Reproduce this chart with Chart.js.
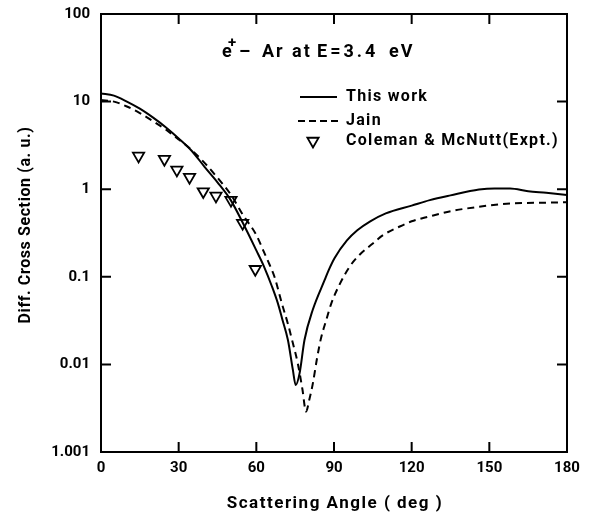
<!DOCTYPE html>
<html>
<head>
<meta charset="utf-8">
<script src="https://cdn.jsdelivr.net/npm/chart.js@4/dist/chart.umd.min.js"></script>
<style>
html,body{margin:0;padding:0;background:#fff;}
#wrap{width:591px;height:515px;position:relative;}
</style>
</head>
<body>
<div id="wrap"><canvas id="c" width="591" height="515"></canvas></div>
<script>
// ---- data ----
const thisWorkAngles = [0,5,10,15,20,25,30,35,40,45,50,55,60,63,66,68.3,70,72.2,74.1,75.2,76.7,78.6,81.8,86.4,88,90.3,95,99,104,110,120,127,135,146,152,158,165,172,180];
const thisWorkValues = [12.4,11.7,10.0,8.3,6.6,5.1,3.8,2.75,1.8,1.2,0.76,0.40,0.2,0.13,0.078,0.05,0.033,0.019,0.0087,0.0058,0.0079,0.019,0.042,0.092,0.12,0.165,0.26,0.34,0.43,0.53,0.65,0.75,0.85,0.99,1.02,1.02,0.95,0.91,0.86];

const jainAngles = [0,5,10,15,20,25,30,35,40,45,50,55,60,63,65,67,70,72.2,74,76,77.8,79.2,80.5,81.8,83.5,85,87,89,92,96,100,105,109,115,120,127,135,146,159,170,180];
const jainValues = [10.4,10.0,8.8,7.4,6.0,4.8,3.7,2.8,2.0,1.35,0.88,0.5,0.3,0.19,0.14,0.1,0.048,0.029,0.018,0.0103,0.0052,0.0029,0.004,0.006,0.012,0.02,0.032,0.05,0.08,0.13,0.18,0.24,0.3,0.37,0.43,0.49,0.56,0.63,0.69,0.70,0.71];

const exptAngles = [14.5,24.5,29.3,34.2,39.5,44.4,50.2,54.7,59.6];
const exptValues = [2.4,2.2,1.66,1.37,0.94,0.84,0.75,0.41,0.122];

const xTickValues = [0,30,60,90,120,150,180];
const yTickValues = [0.001,0.01,0.1,1,10,100];
const yTickLabels = ['1.001','0.01','0.1','1','10','100'];

const seriesNames = ['This work','Jain','Coleman & McNutt(Expt.)'];
const annotationParts = ['e','+','\u2013','Ar','at','E=3.4','eV'];
const xTitle = 'Scattering Angle ( deg )';
const yTitle = 'Diff. Cross Section (a. u.)';

const FONT = 'Roboto, "DejaVu Sans", sans-serif';
const toXY = (xs, ys) => xs.map((x, i) => ({x: x, y: ys[i]}));

const framePlugin = {
  id: 'frame',
  afterDatasetsDraw(chart) {
    const ctx = chart.ctx;
    const a = chart.chartArea;
    const xs = chart.scales.x, ys = chart.scales.y;
    ctx.save();
    ctx.strokeStyle = '#000';
    ctx.lineWidth = 2;
    ctx.strokeRect(a.left, a.top, a.right - a.left, a.bottom - a.top);
    const tl = 10;
    ctx.beginPath();
    xTickValues.forEach(v => {
      if (v === xs.min || v === xs.max) return;
      const px = xs.getPixelForValue(v);
      ctx.moveTo(px, a.bottom); ctx.lineTo(px, a.bottom - tl);
      ctx.moveTo(px, a.top); ctx.lineTo(px, a.top + tl);
    });
    yTickValues.forEach(v => {
      if (v === ys.min || v === ys.max) return;
      const py = ys.getPixelForValue(v);
      ctx.moveTo(a.left, py); ctx.lineTo(a.left + tl, py);
      ctx.moveTo(a.right, py); ctx.lineTo(a.right - tl, py);
    });
    ctx.stroke();

    ctx.fillStyle = '#000';
    ctx.textBaseline = 'middle';
    ctx.textAlign = 'left';

    // annotation "e+ – Ar at E=3.4 eV"
    const ay = 52;
    ctx.font = 'bold 18px ' + FONT;
    ctx.letterSpacing = '1px';
    ctx.fillText(annotationParts[0], 222, ay);
    ctx.font = 'bold 15px ' + FONT;
    ctx.fillText(annotationParts[1], 228, ay - 9);
    ctx.font = 'bold 18px ' + FONT;
    ctx.fillText(annotationParts[2], 239, ay);
    ctx.letterSpacing = '2px';
    ctx.fillText(annotationParts[3], 262, ay);
    ctx.fillText(annotationParts[4], 292, ay);
    ctx.letterSpacing = '3px';
    ctx.fillText(annotationParts[5], 317, ay);
    ctx.letterSpacing = '2px';
    ctx.fillText(annotationParts[6], 389, ay);

    // legend
    ctx.font = 'bold 16px ' + FONT;
    ctx.letterSpacing = '1.3px';
    const ly = [97, 121, 141];
    ctx.lineWidth = 2;
    ctx.beginPath();
    ctx.setLineDash([]);
    ctx.moveTo(300, ly[0]); ctx.lineTo(337, ly[0]);
    ctx.stroke();
    ctx.beginPath();
    ctx.setLineDash([7, 4]);
    ctx.moveTo(298, ly[1]); ctx.lineTo(340, ly[1]);
    ctx.stroke();
    ctx.setLineDash([]);
    ctx.save();
    ctx.fillStyle = 'rgba(255,255,255,0)';
    ctx.strokeStyle = '#000';
    ctx.lineWidth = 1.8;
    Chart.helpers.drawPoint(ctx, {pointStyle: 'triangle', rotation: 180, radius: 6.5, borderWidth: 1.8}, 313, ly[2]);
    ctx.restore();
    ctx.fillStyle = '#000';
    ctx.fillText(seriesNames[0], 346, ly[0]);
    ctx.fillText(seriesNames[1], 346, ly[1]);
    ctx.fillText(seriesNames[2], 346, ly[2]);

    // axis titles
    ctx.textAlign = 'center';
    ctx.font = 'bold 17px ' + FONT;
    ctx.letterSpacing = '1.5px';
    ctx.fillText(xTitle, (a.left + a.right) / 2 + 1, 504);
    ctx.save();
    ctx.translate(26, 225);
    ctx.rotate(-Math.PI / 2);
    ctx.font = 'bold 16px ' + FONT;
    ctx.letterSpacing = '0.6px';
    ctx.fillText(yTitle, 0, 0);
    ctx.restore();
    ctx.restore();
  }
};

new Chart(document.getElementById('c'), {
  type: 'line',
  data: {
    datasets: [
      {
        label: seriesNames[0],
        data: toXY(thisWorkAngles, thisWorkValues),
        borderColor: '#000', borderWidth: 2, pointRadius: 0,
        cubicInterpolationMode: 'monotone', fill: false
      },
      {
        label: seriesNames[1],
        data: toXY(jainAngles, jainValues),
        borderColor: '#000', borderWidth: 2, borderDash: [7, 5], pointRadius: 0,
        cubicInterpolationMode: 'monotone', fill: false
      },
      {
        label: seriesNames[2],
        data: toXY(exptAngles, exptValues),
        showLine: false, pointStyle: 'triangle', pointRotation: 180,
        pointRadius: 6.5, pointBorderWidth: 1.8,
        pointBorderColor: '#000', pointBackgroundColor: 'rgba(255,255,255,0)'
      }
    ]
  },
  options: {
    responsive: false,
    animation: false,
    devicePixelRatio: 1,
    layout: {padding: 0},
    plugins: {legend: {display: false}, tooltip: {enabled: false}},
    scales: {
      x: {
        type: 'linear', min: 0, max: 180,
        afterBuildTicks: s => { s.ticks = xTickValues.map(v => ({value: v})); },
        afterFit: s => { s.height = 63; s.paddingLeft = 0; s.paddingRight = 24; },
        grid: {display: false, drawTicks: false},
        border: {display: false},
        ticks: {color: '#000', padding: 7, font: {family: FONT, size: 15, weight: 'bold'}, maxRotation: 0},
        title: {display: false}
      },
      y: {
        type: 'logarithmic', min: 0.001, max: 100,
        afterBuildTicks: s => { s.ticks = yTickValues.map(v => ({value: v})); },
        afterFit: s => { s.width = 101; s.paddingTop = 14; s.paddingBottom = 0; },
        grid: {display: false, drawTicks: false},
        border: {display: false},
        ticks: {color: '#000', padding: 11, font: {family: FONT, size: 15, weight: 'bold'},
                callback: v => { const i = yTickValues.indexOf(v); return i >= 0 ? yTickLabels[i] : ''; }},
        title: {display: false}
      }
    }
  },
  plugins: [framePlugin]
});
</script>
</body>
</html>
